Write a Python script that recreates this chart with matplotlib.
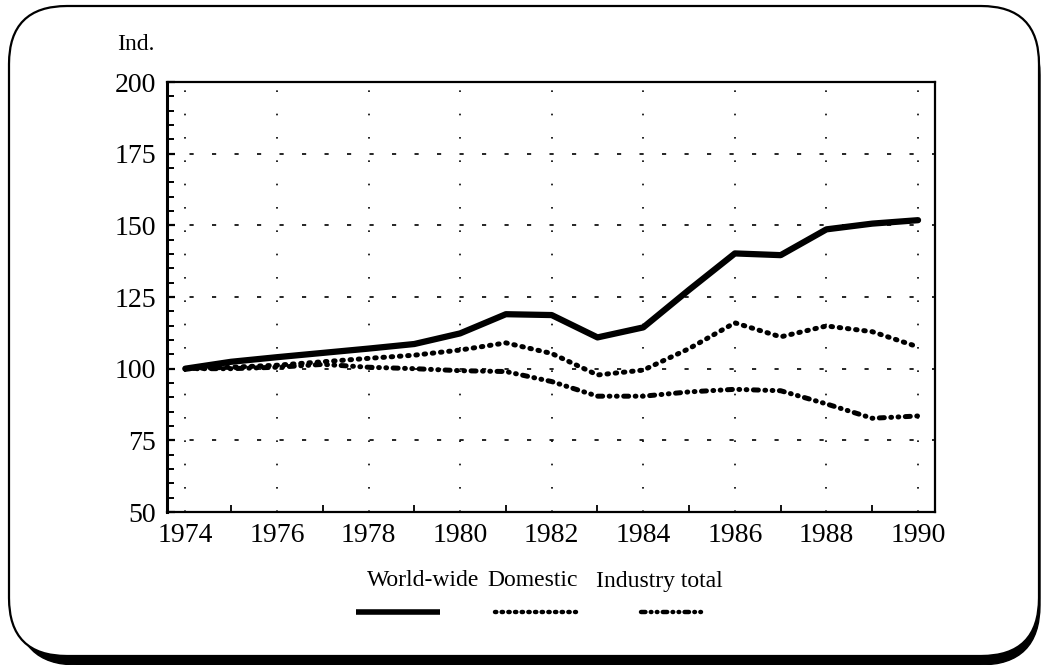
import matplotlib.pyplot as plt
from matplotlib.patches import FancyBboxPatch
from matplotlib.lines import Line2D
from matplotlib.ticker import MultipleLocator

plt.rcParams['font.family'] = ['Liberation Serif', 'DejaVu Serif']

# data (index, 1974 = 100)
years = list(range(1974, 1991))
world_wide = [100, 102.4, 104, 105.5, 107, 108.6, 112.3, 119, 118.7,
              110.9, 114.4, 127.5, 140.2, 139.6, 148.6, 150.6, 151.8]
domestic = [100, 100.5, 101.2, 102.4, 103.6, 104.7, 106.5, 109, 105.3,
            97.8, 99.5, 107, 116, 111.1, 114.9, 112.9, 107.6]
industry_total = [100, 100, 100.5, 101.5, 100.5, 100, 99.3, 99, 95.5,
                  90.4, 90.4, 91.9, 92.8, 92.3, 87.7, 82.7, 83.5]
series_names = ['World-wide', 'Domestic', 'Industry total']

W, H = 1049, 665
fig = plt.figure(figsize=(W / 100, H / 100), dpi=100)

# background axes in pixel units for the rounded frame + shadow
bg = fig.add_axes([0, 0, 1, 1])
bg.set_xlim(0, W)
bg.set_ylim(H, 0)
bg.axis('off')
bg.add_patch(FancyBboxPatch((17, 15), 1023, 650,
                            boxstyle="round,pad=0,rounding_size=60",
                            facecolor='black', edgecolor='black'))
bg.add_patch(FancyBboxPatch((9, 6), 1030, 650,
                            boxstyle="round,pad=0,rounding_size=58",
                            facecolor='white', edgecolor='black', lw=1.6))

ax = fig.add_axes([167 / W, 1 - 512 / H, (935 - 167) / W, (512 - 82) / H])

ax.plot(years, world_wide, color='black', lw=4.5, solid_capstyle='round')
ax.plot(years, domestic, color='black', lw=3.6,
        linestyle=(0, (0.3, 1.35)), dash_capstyle='round')
ax.plot(years, industry_total, color='black', lw=3.6,
        linestyle=(0, (1.0, 1.3, 0.15, 1.3, 0.15, 1.3)), dash_capstyle='round')

ax.set_xlim(1973.6, 1990.37)
ax.set_ylim(50, 200)
ax.xaxis.set_major_locator(MultipleLocator(2))
ax.xaxis.set_minor_locator(MultipleLocator(1))
ax.yaxis.set_major_locator(MultipleLocator(25))
ax.yaxis.set_minor_locator(MultipleLocator(5))
ax.tick_params(axis='both', which='both', direction='in', color='black')
ax.tick_params(axis='x', which='major', length=0, pad=8, labelsize=20)
ax.tick_params(axis='x', which='minor', length=5, width=1.3)
ax.tick_params(axis='y', which='major', length=6, width=1.6, pad=8, labelsize=20)
ax.tick_params(axis='y', which='minor', length=5, width=1.4)
ax.xaxis.grid(True, which='major', color='black', lw=1.2, linestyle=(0, (1, 13)))
ax.yaxis.grid(True, which='major', color='black', lw=1.2, linestyle=(0, (2.5, 11)))
for side in ax.spines:
    ax.spines[side].set_linewidth(1.6)
ax.spines['left'].set_linewidth(2.2)

fig.text(117 / W, 1 - 45 / H, 'Ind.', fontsize=17, va='center', ha='left')

# legend: names on one row, line samples underneath
label_x = [423, 533, 659]
sample_x = [(356, 440), (495, 576), (641, 706)]
styles = [dict(lw=4.0, linestyle='-', solid_capstyle='butt'),
          dict(lw=3.2, linestyle=(0, (0.3, 1.2)), dash_capstyle='round'),
          dict(lw=3.2, linestyle=(0, (1.0, 1.2, 0.15, 1.2, 0.15, 1.2)),
               dash_capstyle='round')]
for name, lx, (x0, x1), st in zip(series_names, label_x, sample_x, styles):
    fig.text(lx / W, 1 - 581 / H, name, fontsize=17, ha='center', va='center')
    fig.add_artist(Line2D([x0 / W, x1 / W], [1 - 612 / H, 1 - 612 / H],
                          transform=fig.transFigure, color='black', **st))

fig.savefig('out.png', dpi=100)
